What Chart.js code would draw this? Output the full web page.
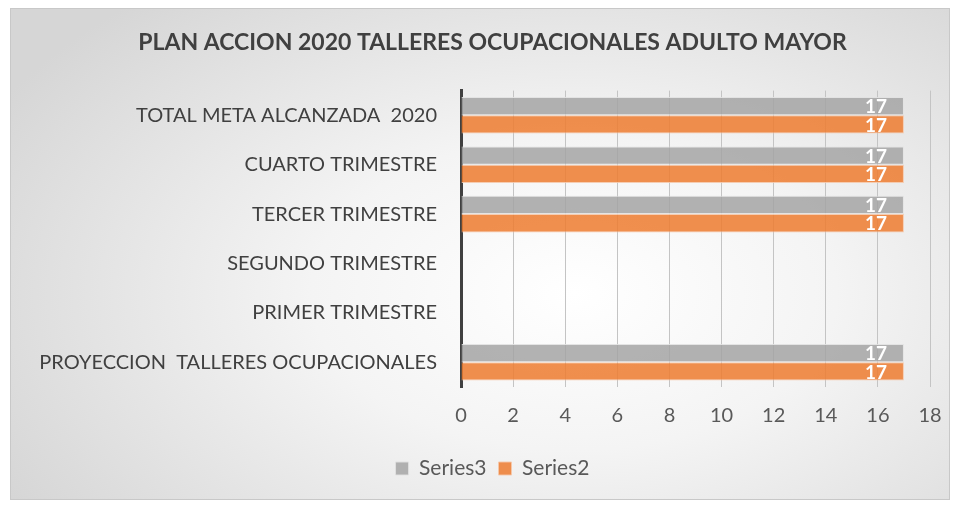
<!DOCTYPE html>
<html lang="es">
<head>
    <meta charset="UTF-8">
    <title>Plan Accion 2020</title>
    <script src="https://cdn.jsdelivr.net/npm/chart.js"></script>
    <style>
        body { margin: 0; background: #fff; }
        #wrap {
            position: absolute; left: 10px; top: 8px; width: 938px; height: 490px;
            border: 1px solid #c8c8c8;
            background: radial-gradient(ellipse 70% 80% at 60% 58%, #ffffff 0%, #f4f4f4 40%, #d6d6d6 100%);
        }
    </style>
</head>
<body>
<div id="wrap"><canvas id="chart" width="938" height="490"></canvas></div>

<script>
    const categories = [
        'TOTAL META ALCANZADA  2020',
        'CUARTO TRIMESTRE',
        'TERCER TRIMESTRE',
        'SEGUNDO TRIMESTRE',
        'PRIMER TRIMESTRE',
        'PROYECCION  TALLERES OCUPACIONALES'
    ];
    const series3 = [17, 17, 17, null, null, 17];
    const series2 = [17, 17, 17, null, null, 17];
    const xTicks = [0, 2, 4, 6, 8, 10, 12, 14, 16, 18];

    const font = 'Lato, "Open Sans", sans-serif';

    // etiquetas blancas al final de cada barra
    const valueLabels = {
        id: 'valueLabels',
        afterLayout(chart) {
            // titulo y leyenda van un poco a la derecha
            [chart.titleBlock, chart.legend].forEach(b => {
                if (!b) return;
                b.left += 6;
                b.right += 6;
            });
        },
        afterDatasetsDraw(chart) {
            const ctx = chart.ctx;
            ctx.save();
            ctx.fillStyle = '#ffffff';
            ctx.font = 'bold 19px ' + font;
            ctx.textAlign = 'right';
            ctx.textBaseline = 'middle';
            chart.data.datasets.forEach((ds, i) => {
                chart.getDatasetMeta(i).data.forEach((bar, j) => {
                    if (ds.data[j] == null) return;
                    ctx.fillText(ds.data[j], bar.x - 17, bar.y + 1);
                });
            });
            ctx.restore();
        }
    };

    new Chart(document.getElementById('chart'), {
        type: 'bar',
        data: {
            labels: categories,
            datasets: [{
                label: 'Series3',
                data: series3,
                backgroundColor: 'rgba(165,165,165,0.85)',
                borderColor: 'rgba(225,225,225,0.9)',
                borderWidth: 1,
                categoryPercentage: 0.74,
                barPercentage: 1
            }, {
                label: 'Series2',
                data: series2,
                backgroundColor: 'rgba(237,125,49,0.86)',
                borderColor: 'rgba(245,200,170,0.9)',
                borderWidth: 1,
                categoryPercentage: 0.74,
                barPercentage: 1
            }]
        },
        plugins: [valueLabels],
        options: {
            indexAxis: 'y',
            responsive: false,
            animation: false,
            layout: { padding: { left: 20, right: 7, top: 10, bottom: 10 } },
            plugins: {
                title: {
                    display: true,
                    text: 'PLAN ACCION 2020 TALLERES OCUPACIONALES ADULTO MAYOR',
                    color: '#404040',
                    font: { family: font, size: 23, weight: 'bold' },
                    padding: { top: 10, bottom: 34 }
                },
                legend: {
                    position: 'bottom',
                    labels: {
                        color: '#595959',
                        font: { family: font, size: 21 },
                        boxWidth: 13,
                        boxHeight: 13,
                        padding: 12
                    }
                },
                tooltip: { enabled: false }
            },
            scales: {
                x: {
                    min: 0,
                    max: 18,
                    afterBuildTicks: s => { s.ticks = xTicks.map(v => ({ value: v })); },
                    afterFit: s => { s.paddingLeft = 0; s.paddingRight = 19; s.height += 1; },
                    grid: { color: '#c4c4c4', drawTicks: false },
                    border: { display: false },
                    ticks: { color: '#595959', font: { family: font, size: 20 }, padding: 17 }
                },
                y: {
                    grid: { display: false },
                    border: { color: '#404040', width: 3 },
                    ticks: { color: '#404040', font: { family: font, size: 20 }, padding: 16 },
                    afterFit: s => { s.width = 430; }
                }
            }
        }
    });
</script>
</body>
</html>
